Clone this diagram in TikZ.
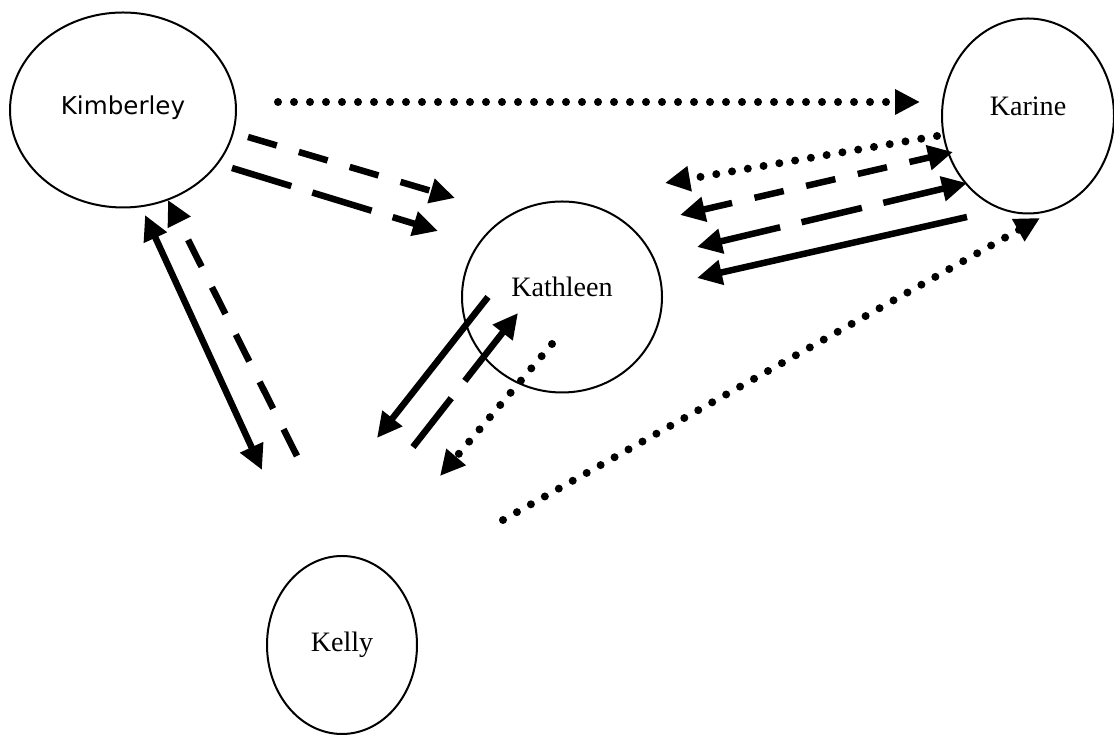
\documentclass[tikz,border=0pt]{standalone}
\usepackage{fontspec}
\setmainfont{Liberation Serif}
\newfontfamily\kimfont{DejaVu Sans}
\usetikzlibrary{shapes.geometric,arrows.meta}

\tikzset{
  girl/.style={draw,ellipse,line width=0.04cm,inner sep=0pt,
    text height=0.4cm,text depth=0.4cm,font=\fontsize{16}{19}\selectfont},
  solidline/.style={line width=0.13cm},
  shortdash/.style={line width=0.13cm,dash pattern=on 0.6cm off 0.46cm},
  longdash/.style={line width=0.13cm,dash pattern=on 1.24cm off 0.44cm},
  dotline/.style={line width=0.16cm,line cap=round,dash pattern=on 0pt off 0.32cm},
  >={Triangle[length=0.5cm,width=0.48cm]}
}

\begin{document}
\begin{tikzpicture}
  \useasboundingbox (0,0) rectangle (22.28,14.7);
  \node[girl,minimum width=4.52cm,minimum height=3.9cm,
    font=\kimfont\fontsize{14}{16}\selectfont,
    text height=0.5cm,text depth=0.3cm] (kim) at (2.46,12.5) {Kimberley};
  \node[girl,minimum width=3.44cm,minimum height=3.9cm] (kar) at (20.56,12.38) {Karine};
  \node[girl,minimum width=4cm,minimum height=3.82cm] (kath) at (11.24,8.76) {Kathleen};
  \node[girl,minimum width=3cm,minimum height=3.56cm,
    text height=0.54cm,text depth=0.26cm] (kel) at (6.84,1.8) {Kelly};
  % end points of the arrows
  \coordinate (kimkar1) at (5.56,12.66);   \coordinate (kimkar2) at (18.4,12.66);
  \coordinate (kimkath1) at (4.96,11.96);  \coordinate (kimkath2) at (9.1,10.74);
  \coordinate (kimkath3) at (4.64,11.34);  \coordinate (kimkath4) at (8.76,10.08);
  \coordinate (kimkel1) at (2.9,10.4);     \coordinate (kimkel2) at (5.24,5.3);
  \coordinate (kelkim1) at (5.94,5.58);    \coordinate (kelkim2) at (3.36,10.7);
  \coordinate (kathkel1) at (9.76,8.76);   \coordinate (kathkel2) at (7.54,5.94);
  \coordinate (kelkath1) at (8.26,5.76);   \coordinate (kelkath2) at (10.36,8.44);
  \coordinate (kathkel3) at (11.04,7.82);  \coordinate (kathkel4) at (8.8,5.18);
  \coordinate (kelkar1) at (10.06,4.3);    \coordinate (kelkar2) at (20.8,10.34);
  \coordinate (karkath1) at (18.74,11.98); \coordinate (karkath2) at (13.3,11.04);
  \coordinate (karkath3) at (13.6,10.4);   \coordinate (karkath4) at (19.06,11.66);
  \coordinate (karkath5) at (13.94,9.76);  \coordinate (karkath6) at (19.34,11.04);
  \coordinate (karkath7) at (19.34,10.36); \coordinate (karkath8) at (13.94,9.14);
  % Kimberley
  \draw[dotline,->] (kimkar1) -- (kimkar2);
  \draw[shortdash,->] (kimkath1) -- (kimkath2);
  \draw[longdash,->] (kimkath3) -- (kimkath4);
  \draw[solidline,<->] (kimkel1) -- (kimkel2);
  \draw[shortdash,->] (kelkim1) -- (kelkim2);
  % Kathleen and Kelly
  \draw[solidline,->] (kathkel1) -- (kathkel2);
  \draw[longdash,->] (kelkath1) -- (kelkath2);
  \draw[dotline,->] (kathkel3) -- (kathkel4);
  \draw[dotline,->] (kelkar1) -- (kelkar2);
  % Karine and Kathleen
  \draw[dotline,->] (karkath1) -- (karkath2);
  \draw[shortdash,<->] (karkath3) -- (karkath4);
  \draw[longdash,<->] (karkath5) -- (karkath6);
  \draw[solidline,->] (karkath7) -- (karkath8);
\end{tikzpicture}
\end{document}
